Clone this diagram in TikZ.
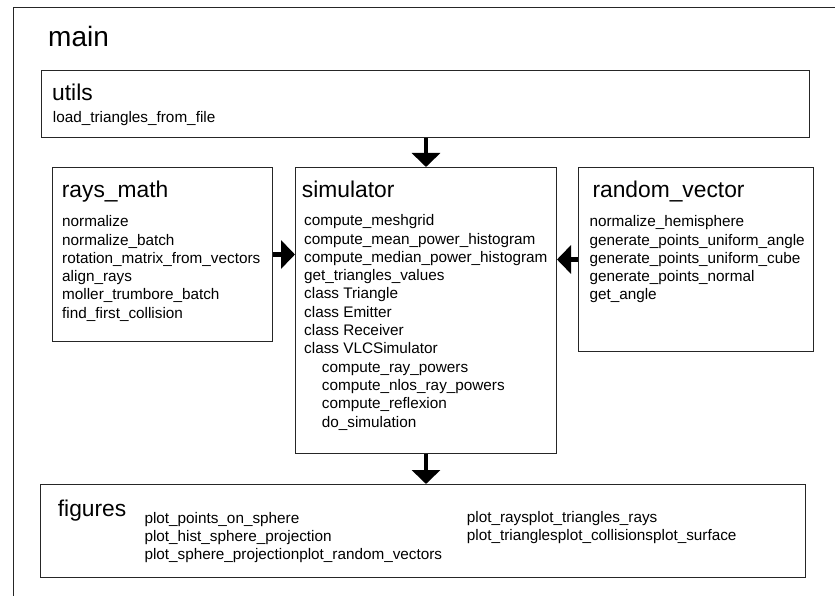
\documentclass[tikz,border=0pt]{standalone}
\usepackage{fontspec}
\setmainfont{Liberation Sans}
\usetikzlibrary{arrows.meta}
\begin{document}
\begin{tikzpicture}[x=1pt,y=-1pt,
  box/.style={draw=black!85,line width=1pt,rectangle,inner sep=0pt,anchor=north west},
  ttl/.style={inner sep=0pt,anchor=base west,font=\fontsize{22.8}{24}\selectfont},
  itm/.style={inner sep=0pt,anchor=base west,font=\fontsize{15.3}{18.3}\selectfont},
  bigarrow/.style={line width=4.8pt,-{Triangle[length=14pt 0 0,width=28pt 0 0]}}]
\useasboundingbox (0,0) rectangle (835,596);
\fill[white] (0,0) rectangle (835,596);
% main frame (cropped)
\draw[draw=black!85,line width=1pt] (13,610) -- (13,8) -- (850,8);
\node[inner sep=0pt,anchor=base west,font=\fontsize{28}{30}\selectfont] (maint) at (48,47) {main};
% boxes
\node[box,minimum width=768pt,minimum height=67pt] (utils) at (41,70) {};
\node[box,minimum width=220pt,minimum height=174pt] (rays) at (52,167) {};
\node[box,minimum width=261pt,minimum height=286pt] (sim) at (295,167) {};
\node[box,minimum width=235pt,minimum height=184pt] (rv) at (578,167) {};
\node[box,minimum width=765pt,minimum height=93pt] (fig) at (40,484) {};
% utils
\node[ttl] (ut) at (52,101) {utils};
\node[itm] (u1) at (52.7,123) {load\_triangles\_from\_file};
% rays_math
\node[ttl] (rt) at (61.7,198) {rays\_math};
\node[itm] (r1) at (62,226.7) {normalize};
\node[itm] (r2) at (62,245) {normalize\_batch};
\node[itm] (r3) at (62,263.3) {rotation\_matrix\_from\_vectors};
\node[itm] (r4) at (62,281.6) {align\_rays};
\node[itm] (r5) at (62,299.9) {moller\_trumbore\_batch};
\node[itm] (r6) at (62,318.2) {find\_first\_collision};
% simulator
\node[ttl] (st) at (301.7,197.5) {simulator};
\node[itm] (s1) at (304,225.7) {compute\_meshgrid};
\node[itm] (s2) at (304,244) {compute\_mean\_power\_histogram};
\node[itm] (s3) at (304,262.3) {compute\_median\_power\_histogram};
\node[itm] (s4) at (304,280.6) {get\_triangles\_values};
\node[itm] (s5) at (304,298.9) {class Triangle};
\node[itm] (s6) at (304,317.2) {class Emitter};
\node[itm] (s7) at (304,335.5) {class Receiver};
\node[itm] (s8) at (304,353.8) {class VLCSimulator};
\node[itm] (s9) at (321.7,372.1) {compute\_ray\_powers};
\node[itm] (s10) at (321.7,390.4) {compute\_nlos\_ray\_powers};
\node[itm] (s11) at (321.7,408.7) {compute\_reflexion};
\node[itm] (s12) at (321.7,427) {do\_simulation};
% random_vector
\node[ttl] (vt) at (592.3,197.5) {random\_vector};
\node[itm] (v1) at (589.3,226.7) {normalize\_hemisphere};
\node[itm] (v2) at (589.3,245) {generate\_points\_uniform\_angle};
\node[itm] (v3) at (589.3,263.3) {generate\_points\_uniform\_cube};
\node[itm] (v4) at (589.3,281.6) {generate\_points\_normal};
\node[itm] (v5) at (589.3,299.9) {get\_angle};
% figures
\node[ttl] (ft) at (57.7,516) {figures};
\node[itm] (f1) at (144.3,523.3) {plot\_points\_on\_sphere};
\node[itm] (f2) at (144.3,541.6) {plot\_hist\_sphere\_projection};
\node[itm] (f3) at (144.3,559.9) {plot\_sphere\_projectionplot\_random\_vectors};
\node[itm] (f4) at (466.7,522.3) {plot\_raysplot\_triangles\_rays};
\node[itm] (f5) at (466.7,540.6) {plot\_trianglesplot\_collisionsplot\_surface};
% arrows
\draw[bigarrow] (utils.south -| sim.north) -- (sim.north);
\draw[bigarrow] (rays.east) -- (rays.east -| sim.west);
\draw[bigarrow] (rv.west) -- (rv.west -| sim.east);
\draw[bigarrow] (sim.south) -- (sim.south |- fig.north);
\end{tikzpicture}
\end{document}
